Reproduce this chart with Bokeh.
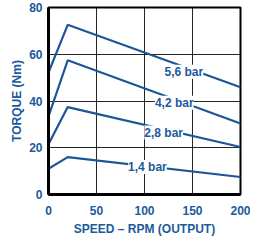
from bokeh.plotting import figure
from bokeh.models import Range1d, Label, FixedTicker
from bokeh.embed import file_html
from bokeh.resources import INLINE

speed = [0, 20, 200]
t_56 = [52.2, 72.6, 45.9]
t_42 = [33.4, 57.4, 30.4]
t_28 = [21.5, 37.4, 20.3]
t_14 = [11.0, 16.0, 7.5]
series_labels = ["5,6 bar", "4,2 bar", "2,8 bar", "1,4 bar"]
label_x = [141, 131, 120, 103]
label_y = [52.5, 39.3, 26.5, 11.8]
x_ticks = [0, 50, 100, 150, 200]
y_ticks = [0, 20, 40, 60, 80]

BLUE = "#1d5597"
TXT = "#1b5a9c"
FONT = "Liberation Sans"

p = figure(frame_width=192, frame_height=187, output_backend="svg", toolbar_location=None,
           x_range=Range1d(0, 200), y_range=Range1d(0, 80),
           min_border_left=20, min_border_right=10, min_border_top=7, min_border_bottom=31)
p.margin = (0, 0, 0, 7)
p.background_fill_color = "white"
p.border_fill_color = "white"
p.outline_line_color = "black"
p.outline_line_width = 2

for ax in (p.xaxis[0], p.yaxis[0]):
    ax.major_tick_line_color = None
    ax.minor_tick_line_color = None
    ax.axis_line_color = "black"
    ax.axis_line_width = 3
    ax.major_label_text_font = FONT
    ax.major_label_text_font_style = "bold"
    ax.major_label_text_font_size = "12px"
    ax.major_label_text_color = TXT
    ax.axis_label_text_font = FONT
    ax.axis_label_text_font_style = "bold"
    ax.axis_label_text_font_size = "12px"
    ax.axis_label_text_color = TXT

p.xaxis.major_label_standoff = 5
p.xaxis.axis_label_standoff = 4
p.yaxis.major_label_standoff = 0
p.yaxis.axis_label_standoff = 2

p.xaxis.ticker = FixedTicker(ticks=x_ticks)
p.yaxis.ticker = FixedTicker(ticks=y_ticks)
p.xaxis.axis_label = "SPEED – RPM (OUTPUT)"
p.yaxis.axis_label = "TORQUE (Nm)"

p.xgrid.ticker = FixedTicker(ticks=x_ticks)
p.ygrid.ticker = FixedTicker(ticks=y_ticks)
for g in (p.xgrid[0], p.ygrid[0]):
    g.grid_line_color = "black"
    g.grid_line_width = 1
    g.grid_line_alpha = 0.85

for ys in (t_56, t_42, t_28, t_14):
    p.line(speed, ys, line_color=BLUE, line_width=2.2)

for name, lx, ly in zip(series_labels, label_x, label_y):
    p.add_layout(Label(x=lx, y=ly, text=name, text_align="center", text_baseline="middle",
                       text_font=FONT, text_font_style="bold", text_font_size="12px",
                       text_color=TXT, background_fill_color="white",
                       border_line_color=None))

open("out.html", "w").write(file_html(p, INLINE))
